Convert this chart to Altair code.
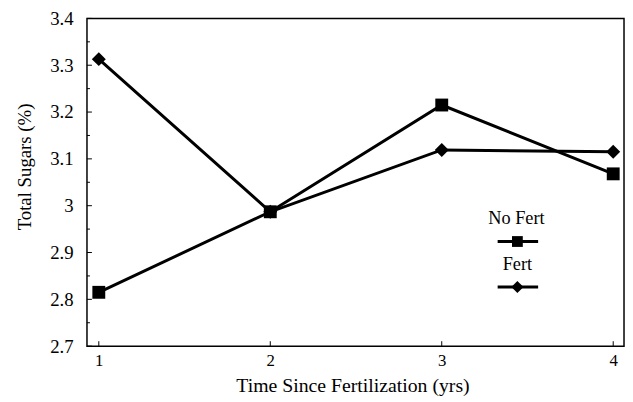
import altair as alt
import pandas as pd

years = [1, 2, 3, 4]
no_fert = [2.815, 2.987, 3.215, 3.068]
fert = [3.313, 2.987, 3.119, 3.115]
series_names = ["No Fert", "Fert"]
y_major = [2.7, 2.8, 2.9, 3.0, 3.1, 3.2, 3.3, 3.4]
y_minor = [2.75, 2.85, 2.95, 3.05, 3.15, 3.25, 3.35]
x_ticks = [1, 2, 3, 4]
x_title = "Time Since Fertilization (yrs)"
y_title = "Total Sugars (%)"

W, H = 544, 332
FONT = "Liberation Serif"

rows = []
for yr, v in zip(years, no_fert):
    rows.append({"year": yr, "value": v, "series": series_names[0]})
for yr, v in zip(years, fert):
    rows.append({"year": yr, "value": v, "series": series_names[1]})
df = pd.DataFrame(rows)

xs = alt.Scale(domain=[0.931, 4.063], nice=False, zero=False)
ys = alt.Scale(domain=[2.7, 3.4], nice=False, zero=False)

x_axis = alt.Axis(values=x_ticks, format="d", title=x_title, domain=False,
                  ticks=False, tickSize=0, grid=False, labelFont=FONT,
                  labelFontSize=17, labelColor="black", labelPadding=7,
                  titleFont=FONT, titleFontSize=20, titleFontWeight="normal",
                  titleColor="black", titleBaseline="alphabetic", titleY=46,
                  titleX=269)
y_axis = alt.Axis(values=y_major, format=".2~f", title=y_title, domain=False,
                  ticks=False, tickSize=0, grid=False, labelFont=FONT,
                  labelFontSize=19, labelColor="black", labelPadding=14,
                  labelBaseline="middle",
                  titleFont=FONT, titleFontSize=19, titleFontWeight="normal",
                  titleColor="black", titleBaseline="middle", titleAlign="center",
                  titleAngle=270, titleX=-63, titleY=150)

base = alt.Chart(df)

lines = base.mark_line(color="black", strokeWidth=3).encode(
    x=alt.X("year:Q", scale=xs, axis=x_axis),
    y=alt.Y("value:Q", scale=ys, axis=y_axis),
    detail="series:N",
)

points = base.mark_point(filled=True, color="black", opacity=1).encode(
    x=alt.X("year:Q", scale=xs, axis=x_axis),
    y=alt.Y("value:Q", scale=ys, axis=y_axis),
    shape=alt.Shape("series:N", scale=alt.Scale(domain=series_names, range=["square", "diamond"]),
                    legend=None),
    size=alt.Size("series:N", scale=alt.Scale(domain=series_names, range=[170, 200]), legend=None),
)

ymaj_df = pd.DataFrame({"v": y_major})
ymin_df = pd.DataFrame({"v": y_minor})
xt_df = pd.DataFrame({"v": x_ticks})

ymaj_ticks = alt.Chart(ymaj_df).mark_rule(color="black", strokeWidth=1).encode(
    y=alt.Y("v:Q", scale=ys, axis=y_axis), x=alt.value(0), x2=alt.value(5))
ymin_ticks = alt.Chart(ymin_df).mark_rule(color="black", strokeWidth=1).encode(
    y=alt.Y("v:Q", scale=ys, axis=y_axis), x=alt.value(0), x2=alt.value(3))
x_tick_marks = alt.Chart(xt_df).mark_rule(color="black", strokeWidth=1).encode(
    x=alt.X("v:Q", scale=xs, axis=x_axis), y=alt.value(H), y2=alt.value(H - 5))

leg_df = pd.DataFrame({"name": series_names})
leg_text1 = alt.Chart(leg_df).transform_filter(alt.datum.name == series_names[0]).mark_text(
    font=FONT, fontSize=18.5, color="black", align="center", baseline="middle").encode(
    text="name:N", x=alt.value(435), y=alt.value(202))
leg_text2 = alt.Chart(leg_df).transform_filter(alt.datum.name == series_names[1]).mark_text(
    font=FONT, fontSize=18.5, color="black", align="center", baseline="middle").encode(
    text="name:N", x=alt.value(436), y=alt.value(249))
leg_line1 = alt.Chart(leg_df).transform_filter(alt.datum.name == series_names[0]).mark_rule(
    color="black", strokeWidth=3).encode(x=alt.value(416), x2=alt.value(457), y=alt.value(226))
leg_line2 = alt.Chart(leg_df).transform_filter(alt.datum.name == series_names[1]).mark_rule(
    color="black", strokeWidth=3).encode(x=alt.value(416), x2=alt.value(457), y=alt.value(272))
leg_pt1 = alt.Chart(leg_df).transform_filter(alt.datum.name == series_names[0]).mark_point(
    shape="square", filled=True, color="black", opacity=1, size=120).encode(
    x=alt.value(436), y=alt.value(226))
leg_pt2 = alt.Chart(leg_df).transform_filter(alt.datum.name == series_names[1]).mark_point(
    shape="diamond", filled=True, color="black", opacity=1, size=150).encode(
    x=alt.value(436), y=alt.value(272))

chart = alt.layer(
    lines, points, ymaj_ticks, ymin_ticks, x_tick_marks,
    leg_text1, leg_text2, leg_line1, leg_line2, leg_pt1, leg_pt2,
).properties(
    width=W, height=H,
    autosize=alt.AutoSizeParams(type="none"),
    padding={"left": 80, "top": 8, "right": 1, "bottom": 52},
    background="white",
).configure_view(stroke="black", strokeWidth=1.5)

chart.save("out.html", embed_options={"renderer": "svg", "actions": False})
